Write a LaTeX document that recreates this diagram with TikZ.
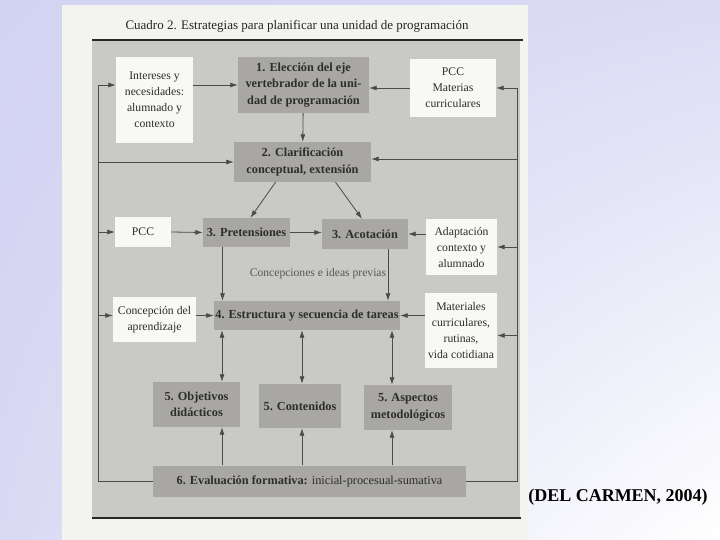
\documentclass[tikz,border=0pt]{standalone}
\usepackage{fontspec}
\setmainfont{Liberation Serif}
\usetikzlibrary{arrows.meta, shadings}
\definecolor{panelgray}{RGB}{201,201,197}
\definecolor{boxgray}{RGB}{168,167,163}
\definecolor{boxwhite}{RGB}{248,248,245}
\definecolor{paper}{RGB}{243,243,239}
\definecolor{inkgray}{RGB}{45,45,45}
\definecolor{linegray}{RGB}{75,75,75}
\definecolor{slideblue}{RGB}{210,210,242}

\tikzset{
  darkbox/.style={fill=boxgray, text=inkgray, align=center, inner sep=0pt,
    font=\bfseries\fontsize{12.3}{16.5}\selectfont},
  whitebox/.style={fill=boxwhite, text=inkgray, align=center, inner sep=0pt,
    font=\fontsize{11.7}{16}\selectfont},
  flow/.style={draw=linegray, line width=0.8pt, -{Latex[length=7.5pt,width=5pt]}},
  dflow/.style={draw=linegray, line width=0.8pt,
    {Latex[length=7.5pt,width=5pt]}-{Latex[length=7.5pt,width=5pt]}},
  backline/.style={draw=linegray, line width=0.8pt}
}

\begin{document}
\begin{tikzpicture}[x=1pt, y=-1pt]
  \useasboundingbox (0,0) rectangle (720,540);

  % Slide background and scanned page
  \shade[upper left=slideblue, upper right=slideblue!80!white,
         lower left=slideblue!85!white, lower right=white] (0,0) rectangle (720,540);
  \fill[paper] (62,5) rectangle (528,540);
  \fill[panelgray] (92,40) rectangle (520,518);
  \draw[line width=1.8pt, black!85] (92,40) -- (523,40);
  \draw[line width=1.8pt, black!85] (92,518) -- (521,518);

  \node[text=black!85, font=\fontsize{13}{15}\selectfont] (title) at (297,26)
    {Cuadro 2. Estrategias para planificar una unidad de programación};

  % Boxes
  \node[whitebox, minimum width=77, minimum height=86] (intereses) at (154.5,100)
    {Intereses y\\necesidades:\\alumnado y\\contexto};
  \node[darkbox, minimum width=131, minimum height=56] (eleccion) at (303.5,85)
    {1. Elección del eje\\vertebrador de la uni-\\dad de programación};
  \node[whitebox, minimum width=86, minimum height=58] (pccmat) at (453,88)
    {PCC\\Materias\\curriculares};
  \node[darkbox, minimum width=137, minimum height=40] (clarif) at (302.5,162)
    {2. Clarificación\\conceptual, extensión};
  \node[whitebox, minimum width=56, minimum height=30] (pcc) at (143,232) {PCC};
  \node[darkbox, minimum width=87, minimum height=29] (pret) at (246.5,232.5)
    {3. Pretensiones};
  \node[darkbox, minimum width=86, minimum height=30] (acot) at (365,234)
    {3. Acotación};
  \node[whitebox, minimum width=71, minimum height=56] (adapt) at (461.5,247)
    {Adaptación\\contexto y\\alumnado};
  \node[text=inkgray!80, font=\fontsize{11.6}{14}\selectfont] (ideas) at (318,274)
    {Concepciones e ideas previas};
  \node[whitebox, minimum width=83, minimum height=45] (concapr) at (154.5,319.5)
    {Concepción del\\aprendizaje};
  \node[darkbox, minimum width=186, minimum height=29] (estr) at (307,315.5)
    {4. Estructura y secuencia de tareas};
  \node[whitebox, minimum width=72, minimum height=75] (mater) at (461,330.5)
    {Materiales\\curriculares,\\rutinas,\\vida cotidiana};
  \node[darkbox, minimum width=87, minimum height=45] (obj) at (196.5,404.5)
    {5. Objetivos\\didácticos};
  \node[darkbox, minimum width=82, minimum height=44] (cont) at (300,406)
    {5. Contenidos};
  \node[darkbox, minimum width=88, minimum height=45] (asp) at (408,407.5)
    {5. Aspectos\\metodológicos};
  \node[darkbox, minimum width=313, minimum height=31] (eval) at (309.5,481)
    {6. Evaluación formativa: \mdseries inicial-procesual-sumativa};

  % Feedback loops
  \coordinate (ltop) at (98,85);
  \coordinate (rtop) at (517,88);
  \draw[backline] (eval.west) -| (ltop);
  \draw[backline] (eval.east) -| (rtop);
  \draw[flow] (ltop) -- (intereses.west |- ltop);
  \draw[flow] (ltop |- clarif) -- (clarif.west);
  \draw[flow] (ltop |- pcc) -- (pcc.west);
  \draw[flow] (ltop |- estr) -- (concapr.west |- estr);
  \draw[flow] (rtop) -- (pccmat.east);
  \draw[flow] ([yshift=3pt]rtop |- clarif) -- ([yshift=3pt]clarif.east);
  \draw[flow] (rtop |- adapt) -- (adapt.east);
  \draw[flow] ([yshift=-5pt]rtop |- mater) -- ([yshift=-5pt]mater.east);

  % Main flow
  \draw[flow] (intereses.east |- eleccion) -- (eleccion.west);
  \draw[flow] (pccmat.west) -- (pccmat.west -| eleccion.east);
  \draw[flow] (eleccion) -- (clarif);
  \draw[flow] ([xshift=-27pt]clarif.south) -- ([xshift=4pt]pret.north);
  \draw[flow] ([xshift=33pt]clarif.south) -- ([xshift=-3pt]acot.north);
  \draw[flow] (pcc.east) -- (pret.west);
  \draw[flow] (pret.east) -- (pret.east -| acot.west);
  \draw[flow] (adapt.west |- acot) -- (acot.east);
  \draw[flow] ([xshift=-24pt]pret.south) -- ([xshift=-24pt]pret.south |- estr.north);
  \draw[flow] ([xshift=23pt]acot.south) -- ([xshift=23pt]acot.south |- estr.north);
  \draw[flow] (concapr.east |- estr) -- (estr.west);
  \draw[flow] (mater.west |- estr) -- (estr.east);

  % Structure <-> elements, evaluation -> elements
  \draw[dflow] ([xshift=25.5pt]obj.north |- estr.south) -- ([xshift=25.5pt]obj.north);
  \draw[dflow] ([xshift=2pt]cont.north |- estr.south) -- ([xshift=2pt]cont.north);
  \draw[dflow] ([xshift=-16pt]asp.north |- estr.south) -- ([xshift=-16pt]asp.north);
  \draw[flow] ([xshift=25.5pt]obj.south |- eval.north) -- ([xshift=25.5pt]obj.south);
  \draw[flow] ([xshift=2pt]cont.south |- eval.north) -- ([xshift=2pt]cont.south);
  \draw[flow] ([xshift=-16pt]asp.south |- eval.north) -- ([xshift=-16pt]asp.south);

  \node[font=\bfseries\fontsize{18}{20}\selectfont] (source) at (618,497)
    {(DEL CARMEN, 2004)};
\end{tikzpicture}
\end{document}
